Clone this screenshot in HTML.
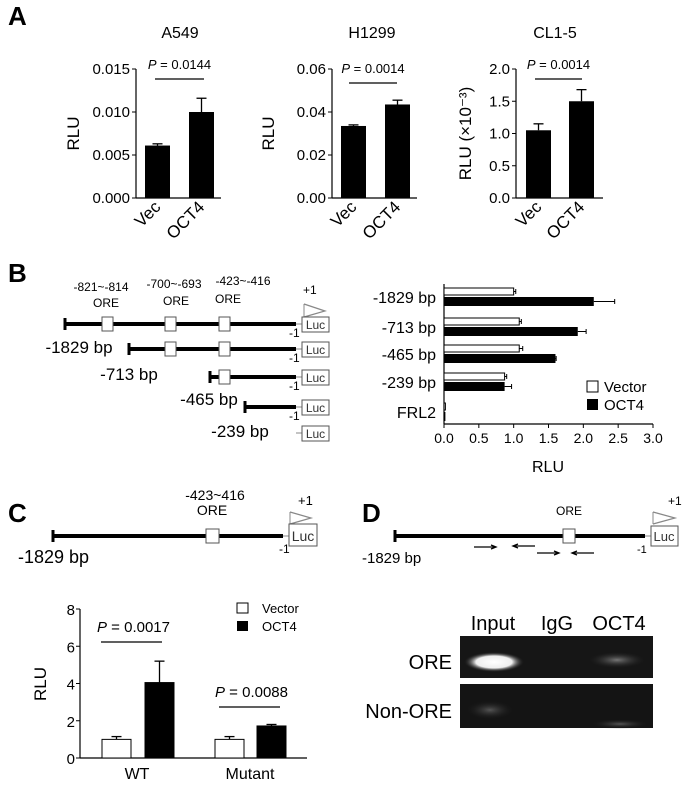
<!DOCTYPE html>
<html><head><meta charset="utf-8"><style>
body{margin:0;background:#fff}
svg{display:block;font-family:"Liberation Sans",Arial,sans-serif}
</style></head><body>
<svg id="fig" width="686" height="785" viewBox="0 0 686 785" xmlns="http://www.w3.org/2000/svg">
<defs>
<radialGradient id="bandBright" cx="50%" cy="50%" r="50%"><stop offset="0" stop-color="#fff"/><stop offset="0.6" stop-color="#eee"/><stop offset="1" stop-color="#222" stop-opacity="0"/></radialGradient>
<radialGradient id="bandDim" cx="50%" cy="50%" r="50%"><stop offset="0" stop-color="#777"/><stop offset="1" stop-color="#222" stop-opacity="0"/></radialGradient>
<radialGradient id="bandFaint" cx="50%" cy="50%" r="50%"><stop offset="0" stop-color="#555"/><stop offset="1" stop-color="#111" stop-opacity="0"/></radialGradient>
</defs>
<text x="8" y="25" font-size="26" font-weight="bold">A</text>
<text x="8" y="282" font-size="26" font-weight="bold">B</text>
<text x="8" y="522" font-size="26" font-weight="bold">C</text>
<text x="362" y="522" font-size="26" font-weight="bold">D</text>
<g id="gA"></g><g id="gB"></g><g id="gC"></g>

<!-- B diagram -->
<g font-size="12" fill="#000">
<text x="101" y="291" text-anchor="middle">-821~-814</text><text x="106" y="307" text-anchor="middle">ORE</text>
<text x="174" y="288" text-anchor="middle">-700~-693</text><text x="176" y="305" text-anchor="middle">ORE</text>
<text x="243" y="285" text-anchor="middle">-423~-416</text><text x="228" y="303" text-anchor="middle">ORE</text>
<text x="303" y="294" font-size="12">+1</text>
<polyline points="304,304 325,311 304,317" fill="none" stroke="#888" stroke-width="1.2"/>
<line x1="304" y1="304" x2="304" y2="317" stroke="#888"/>
</g>
<g id="diagB"></g>

<!-- C diagram -->
<g>
<text x="215" y="500" font-size="14" text-anchor="middle">-423~416</text>
<text x="212" y="515" font-size="14" text-anchor="middle">ORE</text>
<text x="298" y="505" font-size="13">+1</text>
<polyline points="290,512 311,518 290,524" fill="none" stroke="#888" stroke-width="1.2"/>
<line x1="290" y1="512" x2="290" y2="524" stroke="#888"/>
<line x1="53" y1="536" x2="283" y2="536" stroke="#000" stroke-width="4"/>
<line x1="53" y1="530" x2="53" y2="542" stroke="#000" stroke-width="3"/>
<line x1="283" y1="536" x2="289" y2="536" stroke="#888" stroke-width="1"/>
<rect x="206" y="529" width="13" height="14" fill="#fff" stroke="#555"/>
<rect x="289" y="524" width="28" height="22" fill="#fff" stroke="#555"/>
<text x="303" y="541" font-size="14" text-anchor="middle" fill="#333">Luc</text>
<text x="279" y="553" font-size="12">-1</text>
<text x="18" y="563" font-size="18">-1829 bp</text>
</g>

<!-- D diagram -->
<g>
<text x="569" y="515" font-size="12" text-anchor="middle">ORE</text>
<text x="668" y="505" font-size="12">+1</text>
<polyline points="653,512 675,518 653,524" fill="none" stroke="#888" stroke-width="1.2"/>
<line x1="653" y1="512" x2="653" y2="524" stroke="#888"/>
<line x1="395" y1="536" x2="645" y2="536" stroke="#000" stroke-width="4"/>
<line x1="395" y1="530" x2="395" y2="542" stroke="#000" stroke-width="3"/>
<line x1="645" y1="536" x2="651" y2="536" stroke="#888"/>
<rect x="563" y="529" width="12" height="14" fill="#fff" stroke="#555"/>
<rect x="651" y="526" width="27" height="20" fill="#fff" stroke="#555"/>
<text x="664" y="541" font-size="13" text-anchor="middle" fill="#333">Luc</text>
<text x="637" y="553" font-size="11">-1</text>
<text x="362" y="563" font-size="15">-1829 bp</text>
<g stroke="#000" stroke-width="1.3">
<line x1="474" y1="547" x2="495" y2="547"/><polyline points="491,545 496,547 491,549" fill="none"/>
<line x1="514" y1="546" x2="535" y2="546"/><polyline points="518,544 513,546 518,548" fill="none"/>
<line x1="537" y1="553" x2="558" y2="553"/><polyline points="554,551 559,553 554,555" fill="none"/>
<line x1="573" y1="553" x2="594" y2="553"/><polyline points="577,551 572,553 577,555" fill="none"/>
</g>
</g>

<!-- D gel -->
<g>
<text x="493" y="630" font-size="20" text-anchor="middle">Input</text>
<text x="557" y="630" font-size="20" text-anchor="middle">IgG</text>
<text x="619" y="630" font-size="20" text-anchor="middle">OCT4</text>
<text x="452" y="669" font-size="20" text-anchor="end">ORE</text>
<text x="452" y="718" font-size="20" text-anchor="end">Non-ORE</text>
<rect x="460" y="636" width="193" height="42" fill="#161616"/>
<rect x="460" y="684" width="193" height="44" fill="#141414"/>
<ellipse cx="494" cy="662" rx="30" ry="10" fill="url(#bandBright)"/>
<ellipse cx="617" cy="660" rx="28" ry="8" fill="url(#bandDim)"/>
<ellipse cx="490" cy="710" rx="25" ry="10" fill="url(#bandFaint)"/>
<ellipse cx="620" cy="724" rx="30" ry="5" fill="url(#bandFaint)"/>
</g>
</svg>
<script>
// ---------- Panel A data ----------
const aPanels = ["A549","H1299","CL1-5"];
const aGroups = ["Vec","OCT4"];
const a549Values = [0.0061, 0.0100];
const a549Errors = [0.0002, 0.0016];
const a549Ticks = ["0.000","0.005","0.010","0.015"];
const h1299Values = [0.0335, 0.0435];
const h1299Errors = [0.0005, 0.0020];
const h1299Ticks = ["0.00","0.02","0.04","0.06"];
const cl15Values = [1.05, 1.50];
const cl15Errors = [0.10, 0.18];
const cl15Ticks = ["0.0","0.5","1.0","1.5","2.0"];
const aPvalues = ["0.0144","0.0014","0.0014"];
// ---------- Panel B data ----------
const bCategories = ["-1829 bp","-713 bp","-465 bp","-239 bp","FRL2"];
const bVector = [1.00, 1.08, 1.08, 0.87, 0.02];
const bVectorErr = [0.03, 0.03, 0.05, 0.03, 0.0];
const bOct4 = [2.15, 1.92, 1.60, 0.87, 0.02];
const bOct4Err = [0.30, 0.12, 0.01, 0.10, 0.0];
const bTicks = ["0.0","0.5","1.0","1.5","2.0","2.5","3.0"];
// ---------- Panel C data ----------
const cCategories = ["WT","Mutant"];
const cVector = [1.0, 1.0];
const cVectorErr = [0.15, 0.15];
const cOct4 = [4.05, 1.72];
const cOct4Err = [1.15, 0.08];
const cTicks = ["0","2","4","6","8"];
const cPvalues = ["0.0017","0.0088"];

const NS="http://www.w3.org/2000/svg";
function mk(tag, attrs, parent, text){
  const e=document.createElementNS(NS,tag);
  for(const k in attrs) e.setAttribute(k,attrs[k]);
  if(text!==undefined) e.textContent=text;
  parent.appendChild(e); return e;
}
// ---------- Panel A ----------
const gA=document.getElementById('gA');
const aCfg=[
 {ax:136,end:221,bars:[145,189],vals:a549Values,errs:a549Errors,ticks:a549Ticks,ylab:"RLU",ylx:79,tx:180,pl:[155,204]},
 {ax:332,end:417,bars:[341,385],vals:h1299Values,errs:h1299Errors,ticks:h1299Ticks,ylab:"RLU",ylx:274,tx:372,pl:[349,397]},
 {ax:516,end:603,bars:[526,569],vals:cl15Values,errs:cl15Errors,ticks:cl15Ticks,ylab:"RLU (\u00d710\u207b\u00b3)",ylx:471,tx:555,pl:[535,582]}
];
const aTop=69, aBot=198;
aCfg.forEach((c,i)=>{
  const max=parseFloat(c.ticks[c.ticks.length-1]);
  const y=v=>aBot-(v/max)*(aBot-aTop);
  const t=mk('text',{x:c.tx,y:38,'font-size':16,'text-anchor':'middle'},gA,aPanels[i]);
  
  
  mk('line',{x1:c.ax,y1:aTop,x2:c.ax,y2:aBot,stroke:'#000','stroke-width':1.2},gA);
  mk('line',{x1:c.ax,y1:aBot,x2:c.end,y2:aBot,stroke:'#000','stroke-width':1.2},gA);
  c.ticks.forEach(tk=>{
    const yy=y(parseFloat(tk));
    mk('line',{x1:c.ax-4,y1:yy,x2:c.ax,y2:yy,stroke:'#000'},gA);
    const tl=mk('text',{x:c.ax-6,y:yy+5,'font-size':15,'text-anchor':'end'},gA,tk);
    
    
  });
  const yl=mk('text',{x:c.ylx,y:(aTop+aBot)/2,'font-size':17,'text-anchor':'middle',transform:`rotate(-90 ${c.ylx} ${(aTop+aBot)/2})`},gA,c.ylab);
  
  
  c.vals.forEach((v,j)=>{
    const bx=c.bars[j], bw=25;
    const r=mk('rect',{x:bx,y:y(v),width:bw,height:aBot-y(v),fill:'#000'},gA);
    
    
    const ey=y(v+c.errs[j]);
    mk('line',{x1:bx+bw/2,y1:y(v),x2:bx+bw/2,y2:ey,stroke:'#000','stroke-width':1.3},gA);
    mk('line',{x1:bx+bw/2-5,y1:ey,x2:bx+bw/2+5,y2:ey,stroke:'#000','stroke-width':1.3},gA);
    const cx=bx+bw/2+4;
    const xl=mk('text',{x:cx,y:208,'font-size':17,'text-anchor':'end',transform:`rotate(-45 ${cx} 208)`},gA,aGroups[j]);
    
    
  });
  const ly=i==1?83:79;
  mk('line',{x1:c.pl[0],y1:ly,x2:c.pl[1],y2:ly,stroke:'#000','stroke-width':1.2},gA);
  const pt=mk('text',{x:(c.pl[0]+c.pl[1])/2,y:ly-10,'font-size':13,'text-anchor':'middle'},gA);
  
  
  mk('tspan',{'font-style':'italic'},pt,'P');
  mk('tspan',{},pt,' = '+aPvalues[i]);
});
// ---------- Panel B diagram ----------
const dB=document.getElementById('diagB');
const rowsY=[324,349,377,407,433];
const starts=[65,129,210,245,null];
const oreX=[[102,165,219],[165,219],[219],[],[]];
const bpLab=[[79,353],[129,380],[209,405],[240,437]];
rowsY.forEach((ry,i)=>{
  if(starts[i]!==null){
    mk('line',{x1:starts[i],y1:ry,x2:296,y2:ry,stroke:'#000','stroke-width':4},dB);
    mk('line',{x1:starts[i],y1:ry-6,x2:starts[i],y2:ry+6,stroke:'#000','stroke-width':3},dB);
    mk('text',{x:289,y:ry+13,'font-size':12},dB,'-1');
  }
  mk('line',{x1:296,y1:ry,x2:302,y2:ry,stroke:'#888'},dB);
  oreX[i].forEach(ox=>mk('rect',{x:ox,y:ry-7,width:11,height:14,fill:'#fff',stroke:'#555'},dB));
  const lb=mk('rect',{x:302,y:ry-7,width:27,height:15,fill:'#fff',stroke:'#555'},dB);
  
  
  mk('text',{x:315.5,y:ry+5,'font-size':12,'text-anchor':'middle',fill:'#333'},dB,'Luc');
});
bpLab.forEach((p,i)=>{
  const t=mk('text',{x:p[0],y:p[1],'font-size':17,'text-anchor':'middle'},dB,bCategories[i]);
  
  
});
// ---------- Panel B chart ----------
const gB=document.getElementById('gB');
const bx0=444,bx1=653,bTop=284,bBot=424;
const bxMax=parseFloat(bTicks[bTicks.length-1]);
const xB=v=>bx0+(v/bxMax)*(bx1-bx0);
const catY=[297,327,354,382,412];
mk('line',{x1:bx0,y1:bTop,x2:bx0,y2:bBot,stroke:'#000','stroke-width':1.2},gB);
mk('line',{x1:bx0,y1:bBot,x2:bx1,y2:bBot,stroke:'#000','stroke-width':1.2},gB);
bTicks.forEach(tk=>{
  const xx=xB(parseFloat(tk));
  mk('line',{x1:xx,y1:bBot,x2:xx,y2:bBot+4,stroke:'#000'},gB);
  const t=mk('text',{x:xx,y:bBot+19,'font-size':14,'text-anchor':'middle'},gB,tk);
  
  
});
bCategories.forEach((c,i)=>{
  const cy=catY[i];
  const t=mk('text',{x:436,y:cy+6,'font-size':16,'text-anchor':'end'},gB,c);
  
  
  const rv=mk('rect',{x:bx0,y:cy-9,width:xB(bVector[i])-bx0,height:7,fill:'#fff',stroke:'#000'},gB);
  
  
  const ro=mk('rect',{x:bx0,y:cy,width:xB(bOct4[i])-bx0,height:9,fill:'#000'},gB);
  
  
  if(bVectorErr[i]>0){const ex=xB(bVector[i]+bVectorErr[i]);
    mk('line',{x1:xB(bVector[i]),y1:cy-5.5,x2:ex,y2:cy-5.5,stroke:'#000'},gB);
    mk('line',{x1:ex,y1:cy-8,x2:ex,y2:cy-3,stroke:'#000'},gB);}
  if(bOct4Err[i]>0){const ex=xB(bOct4[i]+bOct4Err[i]);
    mk('line',{x1:xB(bOct4[i]),y1:cy+4.5,x2:ex,y2:cy+4.5,stroke:'#000'},gB);
    mk('line',{x1:ex,y1:cy+2,x2:ex,y2:cy+7,stroke:'#000'},gB);}
});
mk('text',{x:548,y:472,'font-size':16,'text-anchor':'middle'},gB,'RLU');
mk('rect',{x:587,y:381,width:11,height:11,fill:'#fff',stroke:'#000'},gB);
mk('rect',{x:587,y:399,width:11,height:11,fill:'#000'},gB);
mk('text',{x:604,y:392,'font-size':15},gB,'Vector');
mk('text',{x:604,y:410,'font-size':15},gB,'OCT4');
// ---------- Panel C chart ----------
const gC=document.getElementById('gC');
const cAx=80,cEnd=307,cTop=609,cBot=758;
const cMax=parseFloat(cTicks[cTicks.length-1]);
const yC=v=>cBot-(v/cMax)*(cBot-cTop);
const cBarX=[[102,145],[215,257]];
const cLabX=[137,250];
const pLine=[[101,162,642],[219,280,707]];
mk('line',{x1:cAx,y1:cTop,x2:cAx,y2:cBot,stroke:'#000','stroke-width':1.2},gC);
mk('line',{x1:cAx,y1:cBot,x2:cEnd,y2:cBot,stroke:'#000','stroke-width':1.2},gC);
cTicks.forEach(tk=>{
  const yy=yC(parseFloat(tk));
  mk('line',{x1:cAx-4,y1:yy,x2:cAx,y2:yy,stroke:'#000'},gC);
  const t=mk('text',{x:cAx-5,y:yy+6,'font-size':15,'text-anchor':'end'},gC,tk);
  
  
});
mk('text',{x:46,y:684,'font-size':17,'text-anchor':'middle',transform:'rotate(-90 46 684)'},gC,'RLU');
cCategories.forEach((c,i)=>{
  const bw=29;
  [[cVector,cVectorErr,'#fff'],[cOct4,cOct4Err,'#000']].forEach((s,j)=>{
    const v=s[0][i],bx=cBarX[i][j];
    const r=mk('rect',{x:bx,y:yC(v),width:bw,height:cBot-yC(v),fill:s[2],stroke:'#000'},gC);
    
    
    const ey=yC(v+s[1][i]);
    mk('line',{x1:bx+bw/2,y1:yC(v),x2:bx+bw/2,y2:ey,stroke:'#000','stroke-width':1.3},gC);
    mk('line',{x1:bx+bw/2-5,y1:ey,x2:bx+bw/2+5,y2:ey,stroke:'#000','stroke-width':1.3},gC);
  });
  const t=mk('text',{x:cLabX[i],y:779,'font-size':16,'text-anchor':'middle'},gC,c);
  
  
  const pl=pLine[i];
  mk('line',{x1:pl[0],y1:pl[2],x2:pl[1],y2:pl[2],stroke:'#000','stroke-width':1.2},gC);
  const pt=mk('text',{x:(pl[0]+pl[1])/2+2,y:pl[2]-10,'font-size':15,'text-anchor':'middle'},gC);
  
  
  mk('tspan',{'font-style':'italic'},pt,'P');
  mk('tspan',{},pt,' = '+cPvalues[i]);
});
mk('rect',{x:237,y:603,width:11,height:10,fill:'#fff',stroke:'#000'},gC);
mk('rect',{x:237,y:621,width:11,height:10,fill:'#000'},gC);
mk('text',{x:262,y:613,'font-size':13},gC,'Vector');
mk('text',{x:262,y:631,'font-size':13},gC,'OCT4');
</script>
</body></html>
